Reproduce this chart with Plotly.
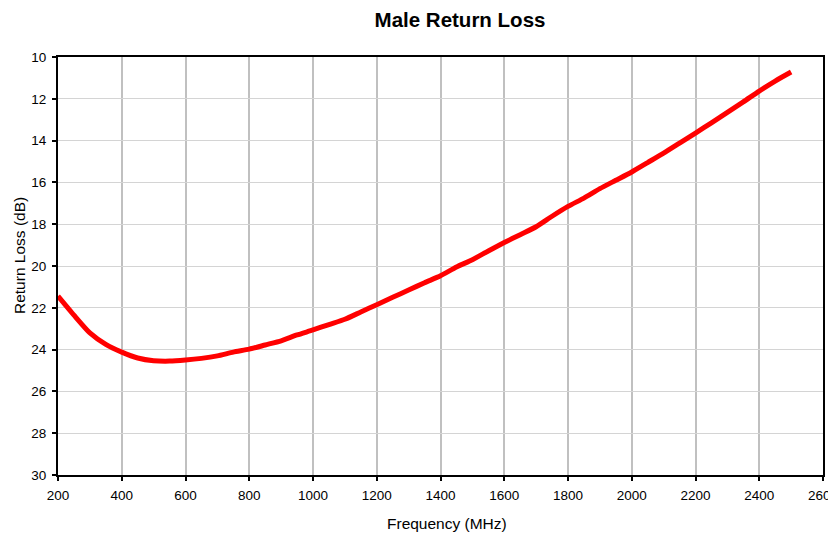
import plotly.graph_objects as go

freq_mhz = [200, 250, 300, 350, 400, 450, 500, 550, 600, 650, 700, 750, 800, 850, 900, 950,
            1000, 1050, 1100, 1150, 1200, 1250, 1300, 1350, 1400, 1450, 1500, 1550, 1600,
            1650, 1700, 1750, 1800, 1850, 1900, 1950, 2000, 2050, 2100, 2150, 2200, 2250,
            2300, 2350, 2400, 2450, 2500]
return_loss_db = [21.44, 22.35, 23.2, 23.75, 24.12, 24.4, 24.53, 24.55, 24.5, 24.42, 24.3, 24.12,
                  23.98, 23.78, 23.58, 23.3, 23.06, 22.8, 22.55, 22.2, 21.85, 21.5, 21.15, 20.8,
                  20.47, 20.05, 19.7, 19.28, 18.88, 18.5, 18.12, 17.62, 17.15, 16.75, 16.3, 15.9,
                  15.5, 15.05, 14.6, 14.12, 13.64, 13.15, 12.65, 12.15, 11.63, 11.15, 10.72]

x_ticks = list(range(200, 2601, 200))
y_ticks = list(range(10, 31, 2))

fig = go.Figure()
fig.add_trace(go.Scatter(
    x=freq_mhz, y=return_loss_db, mode="lines",
    line=dict(color="#ff0000", width=5, shape="spline", smoothing=0.6),
    showlegend=False, hoverinfo="x+y",
))

font_family = "Liberation Sans, Arial, sans-serif"
fig.update_layout(
    width=836, height=536,
    margin=dict(l=50, r=21, t=49, b=69, autoexpand=False),
    paper_bgcolor="white", plot_bgcolor="white",
    font=dict(family=font_family, color="black", size=13),
    title=dict(text="<b>Male Return Loss</b>", x=(460 - 58) / 765, xref="paper",
               xanchor="center", y=1 - 12 / 536, yanchor="middle",
               font=dict(size=20.5, family=font_family, color="black")),
    xaxis=dict(
        range=[200, 2600], tickvals=x_ticks, ticktext=[str(v) for v in x_ticks],
        showgrid=True, gridcolor="#c0c0c0", gridwidth=2,
        showline=True, linecolor="black", linewidth=2, mirror=True,
        ticks="outside", ticklen=4, tickwidth=2, tickcolor="black",
        tickfont=dict(size=13.5), zeroline=False, automargin=False,
        ticklabelstandoff=3,
    ),
    yaxis=dict(
        range=[30, 10], tickvals=y_ticks, ticktext=[str(v) for v in y_ticks],
        showgrid=True, gridcolor="#d4d4d4", gridwidth=1,
        showline=True, linecolor="black", linewidth=2, mirror=True,
        ticks="outside", ticklen=4, tickwidth=2, tickcolor="black",
        tickfont=dict(size=13.5), zeroline=False, automargin=False,
        ticklabelstandoff=3,
    ),
    annotations=[
        dict(text="Frequency (MHz)", xref="paper", yref="paper",
             x=(447 - 58) / 765, y=0, yshift=-48, xanchor="center", yanchor="middle",
             showarrow=False, font=dict(size=15.5)),
        dict(text="Return Loss (dB)", xref="paper", yref="paper",
             x=0, xshift=-39, y=(475 - 256) / 418, xanchor="center", yanchor="middle",
             textangle=-90, showarrow=False, font=dict(size=15.5)),
    ],
)

fig.write_html("out.html")
